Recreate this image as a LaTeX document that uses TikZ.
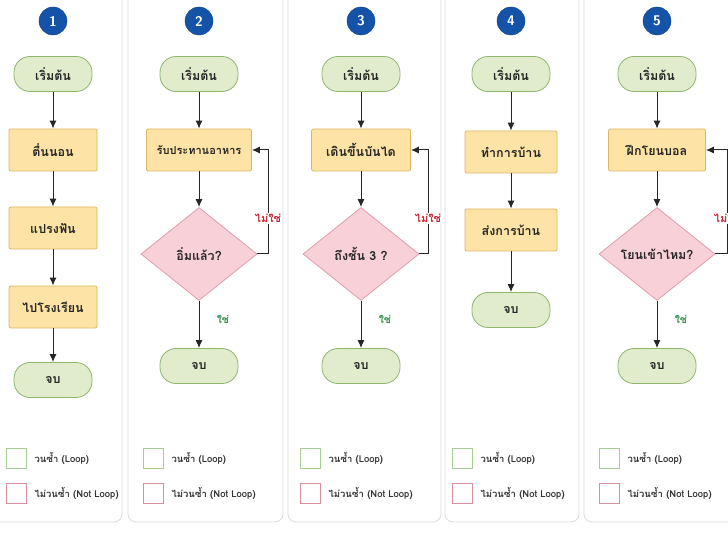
\documentclass[tikz,border=0pt]{standalone}
\usepackage{fontspec}
\newfontfamily\thaifont[Script=Thai]{Loma}
\usetikzlibrary{shapes.geometric,arrows.meta}

\definecolor{numblue}{HTML}{1553A8}
\definecolor{pillfill}{HTML}{E1ECCD}
\definecolor{pillline}{HTML}{8FB56E}
\definecolor{boxfill}{HTML}{FDE4A6}
\definecolor{boxline}{HTML}{DDB563}
\definecolor{diafill}{HTML}{F8D0D8}
\definecolor{dialine}{HTML}{E09CAD}
\definecolor{noRed}{HTML}{C62B36}
\definecolor{yesGreen}{HTML}{2F8F4A}
\definecolor{loopGreen}{HTML}{A8CC96}
\definecolor{loopRed}{HTML}{DB8F9C}
\definecolor{cardline}{HTML}{DCDCDC}

\tikzset{
  thaitext/.style={font=\thaifont\bfseries\fontsize{12.5}{14}\selectfont, text=black!85},
  terminal/.style={thaitext, draw=pillline, fill=pillfill, rounded corners=16pt,
    minimum width=78pt, minimum height=35pt, line width=0.8pt},
  process/.style={thaitext, draw=boxline, fill=boxfill, rounded corners=2pt,
    minimum height=42pt, line width=0.8pt},
  decision/.style={thaitext, diamond, draw=dialine, fill=diafill,
    minimum width=116pt, minimum height=93pt, inner sep=0pt, line width=0.8pt},
  stepnum/.style={circle, fill=numblue, draw=numblue!80!black, text=white,
    font=\sffamily\bfseries\fontsize{14}{14}\selectfont, minimum size=28pt, inner sep=0pt},
  flow/.style={-{Latex[length=8pt,width=7pt]}, draw=black!85, line width=1pt},
  nolabel/.style={font=\thaifont\bfseries\fontsize{11}{13}\selectfont, text=noRed,
    fill=white, inner sep=1pt},
  yeslabel/.style={font=\thaifont\bfseries\fontsize{10.5}{12}\selectfont, text=yesGreen},
  legendbox/.style={fill=white, minimum size=20pt, inner sep=0pt, line width=0.8pt},
  legendtext/.style={font=\thaifont\bfseries\fontsize{9.5}{11}\selectfont, text=black!80,
    anchor=west, inner sep=0pt},
  card/.style={draw=cardline, fill=white, rounded corners=8pt, line width=0.8pt}
}

\begin{document}
\begin{tikzpicture}[x=1pt,y=-1pt]
  \clip (0,0) rectangle (728,534);
  \fill[white] (0,0) rectangle (728,534);

  % Tarjetas
  \draw[card] (-10,-10) rectangle (122,522);
  \draw[card] (128,-10) rectangle (283,522);
  \draw[card] (288,-10) rectangle (441,522);
  \draw[card] (445,-10) rectangle (579,522);
  \draw[card] (584,-10) rectangle (745,522);

  % 1: secuencia
  \node[stepnum] (n1) at (53,21) {1};
  \node[terminal] (s1) at (53,74) {เริ่มต้น};
  \node[process, minimum width=88pt] (p1a) at (53,150) {ตื่นนอน};
  \node[process, minimum width=88pt] (p1b) at (53,228) {แปรงฟัน};
  \node[process, minimum width=88pt] (p1c) at (53,307) {ไปโรงเรียน};
  \node[terminal] (e1) at (53,380) {จบ};
  \draw[flow] (s1) -- (p1a);
  \draw[flow] (p1a) -- (p1b);
  \draw[flow] (p1b) -- (p1c);
  \draw[flow] (p1c) -- (e1);

  % 2: bucle
  \node[stepnum] (n2) at (199,21) {2};
  \node[terminal] (s2) at (199,74) {เริ่มต้น};
  \node[process, minimum width=105pt, inner xsep=2pt, font=\thaifont\bfseries\fontsize{11}{13}\selectfont] (p2) at (199,150) {รับประทานอาหาร};
  \node[decision] (d2) at (199,254) {อิ่มแล้ว?};
  \node[terminal] (e2) at (199,366) {จบ};
  \coordinate (r2) at (268,254);
  \draw[flow] (s2) -- (p2);
  \draw[flow] (p2) -- (d2);
  \draw[flow] (d2.east) -- (r2) |- node[pos=0.17, nolabel] {ไม่ใช่} (p2.east);
  \draw[flow] (d2) -- node[pos=0.4, yeslabel, right=14pt] {ใช่} (e2);

  % 3: bucle
  \node[stepnum] (n3) at (361,21) {3};
  \node[terminal] (s3) at (361,74) {เริ่มต้น};
  \node[process, minimum width=99pt] (p3) at (361,150) {เดินขึ้นบันได};
  \node[decision] (d3) at (361,254) {ถึงชั้น 3 ?};
  \node[terminal] (e3) at (361,366) {จบ};
  \coordinate (r3) at (428,254);
  \draw[flow] (s3) -- (p3);
  \draw[flow] (p3) -- (d3);
  \draw[flow] (d3.east) -- (r3) |- node[pos=0.17, nolabel] {ไม่ใช่} (p3.east);
  \draw[flow] (d3) -- node[pos=0.4, yeslabel, right=14pt] {ใช่} (e3);

  % 4: secuencia
  \node[stepnum] (n4) at (511,21) {4};
  \node[terminal] (s4) at (511,74) {เริ่มต้น};
  \node[process, minimum width=92pt] (p4a) at (511,152) {ทำการบ้าน};
  \node[process, minimum width=92pt] (p4b) at (511,230) {ส่งการบ้าน};
  \node[terminal] (e4) at (511,310) {จบ};
  \draw[flow] (s4) -- (p4a);
  \draw[flow] (p4a) -- (p4b);
  \draw[flow] (p4b) -- (e4);

  % 5: bucle
  \node[stepnum] (n5) at (657,21) {5};
  \node[terminal] (s5) at (657,74) {เริ่มต้น};
  \node[process, minimum width=97pt] (p5) at (657,150) {ฝึกโยนบอล};
  \node[decision] (d5) at (657,254) {โยนเข้าไหม?};
  \node[terminal] (e5) at (657,366) {จบ};
  \coordinate (r5) at (727,254);
  \draw[flow] (s5) -- (p5);
  \draw[flow] (p5) -- (d5);
  \draw[flow] (d5.east) -- (r5) |- node[pos=0.17, nolabel] {ไม่ใช่} (p5.east);
  \draw[flow] (d5) -- node[pos=0.4, yeslabel, right=14pt] {ใช่} (e5);

  % Leyenda
  \foreach \lx/\k in {16/1,153/2,310/3,462/4,609/5} {
    \node[legendbox, draw=loopGreen] (lg\k) at (\lx,458) {};
    \node[legendtext] (lgt\k) at ([xshift=8pt]lg\k.east) {วนซ้ำ (Loop)};
    \node[legendbox, draw=loopRed] (lr\k) at (\lx,493) {};
    \node[legendtext] (lrt\k) at ([xshift=8pt]lr\k.east) {ไม่วนซ้ำ (Not Loop)};
  }
\end{tikzpicture}
\end{document}
